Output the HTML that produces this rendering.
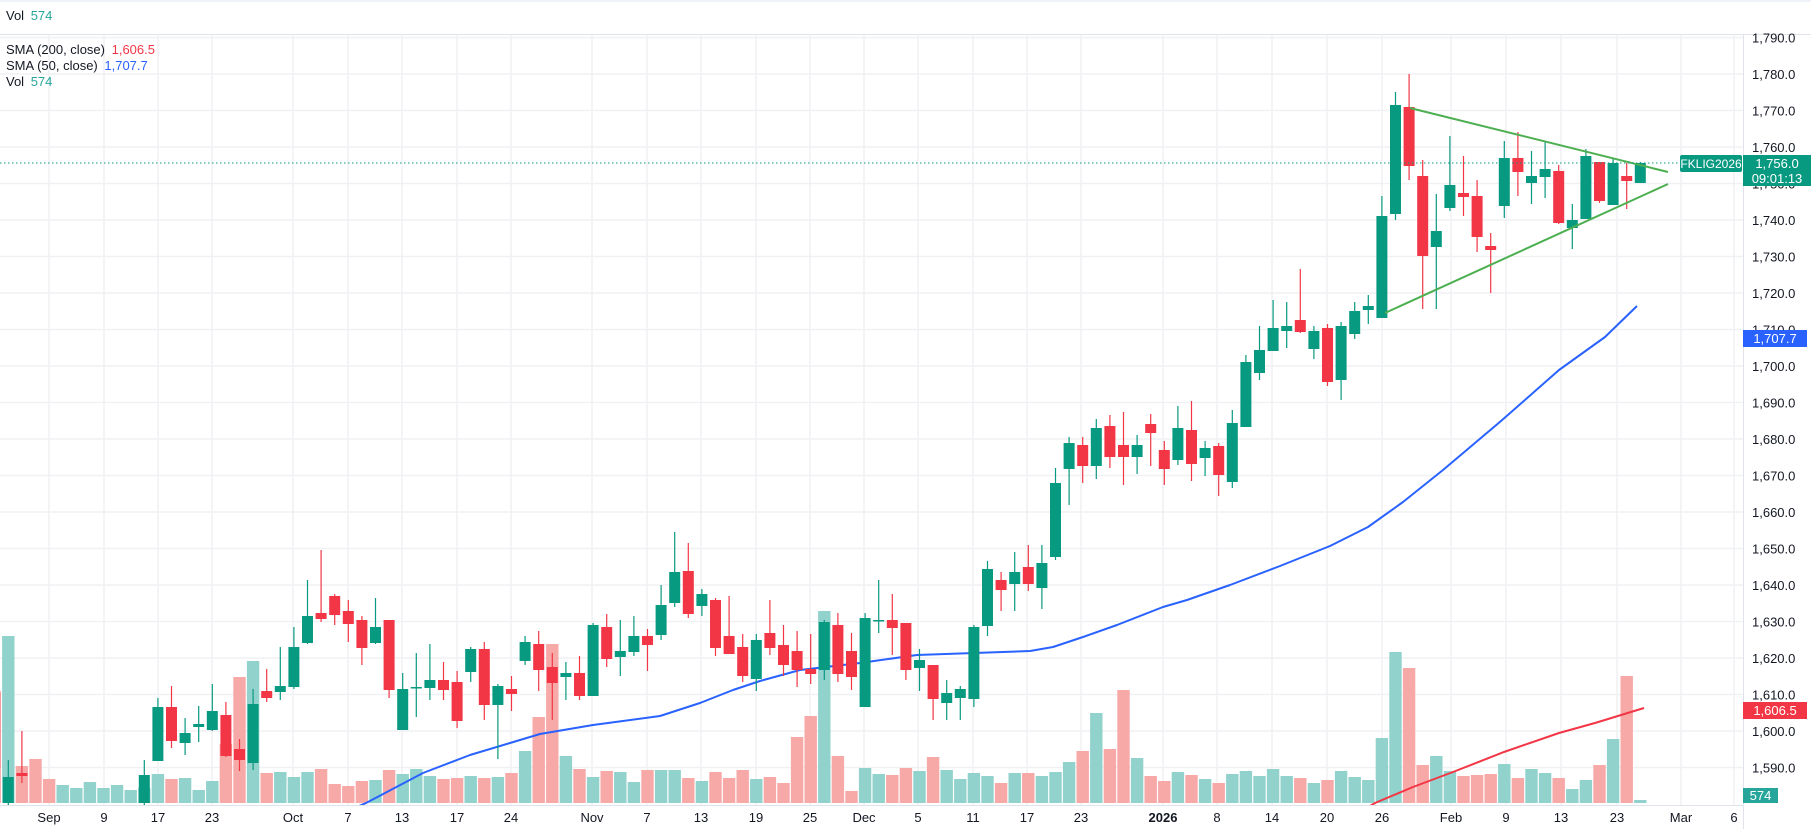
<!DOCTYPE html>
<html><head><meta charset="utf-8"><style>
html,body{margin:0;padding:0;background:#fff;}
body{width:1811px;height:829px;overflow:hidden;font-family:"Liberation Sans",sans-serif;}
svg text{font-family:"Liberation Sans",sans-serif;}
</style></head><body>
<svg id="c" width="1811" height="829" xmlns="http://www.w3.org/2000/svg"></svg>
<script>
const K={"-1":[693,768,680,780],0:[803,777,760,810],1:[773,776,731,783],10:[803,775,760,810],11:[761,707,698,761],12:[707,741,686,748],13:[743,733,718,755],14:[727,724,706,742],15:[730,711,684,731],16:[715,756,702,757],17:[749,760,739,771],18:[763,704,689,770],19:[691,698,669,702],20:[692,686,647,700],21:[687,647,627,689],22:[643,616,580,644],23:[613,619,550,622],24:[596,615,594,625],25:[611,624,600,642],26:[620,648,616,665],27:[643,627,598,644],28:[620,690,620,698],29:[730,689,673,730],30:[688,687,653,717],31:[688,680,644,700],32:[680,690,662,700],33:[682,721,671,728],34:[672,649,647,682],35:[649,705,642,720],36:[705,686,684,759],37:[689,694,676,711],38:[661,642,636,665],39:[644,670,631,691],40:[667,683,653,720],41:[677,673,662,700],42:[673,696,656,700],43:[696,625,623,696],44:[627,659,614,667],45:[657,651,620,676],46:[652,636,616,656],47:[636,645,629,671],48:[635,605,585,640],49:[603,572,532,607],50:[571,614,543,618],51:[606,594,589,616],52:[600,648,598,656],53:[636,654,596,654],54:[647,676,634,682],55:[679,640,634,691],56:[633,648,600,655],57:[645,665,625,676],58:[651,670,631,687],59:[669,674,634,684],60:[670,622,620,680],61:[625,674,613,682],62:[651,677,633,690],63:[707,618,613,707],64:[621,620,580,633],65:[620,628,594,655],66:[623,670,623,680],67:[668,660,649,691],68:[665,699,665,720],69:[703,693,680,720],70:[698,689,686,720],71:[699,627,625,707],72:[626,569,561,636],73:[580,590,572,611],74:[584,572,552,611],75:[567,584,545,591],76:[588,563,545,609],77:[557,483,468,560],78:[469,443,437,505],79:[445,466,437,483],80:[466,428,419,479],81:[426,457,415,468],82:[445,457,412,485],83:[457,445,435,474],84:[424,433,414,466],85:[450,469,441,485],86:[460,428,406,465],87:[430,464,401,481],88:[458,448,441,476],89:[446,475,443,496],90:[482,423,410,488],91:[427,362,355,427],92:[373,350,326,380],93:[351,328,300,351],94:[331,326,302,348],95:[320,332,269,333],96:[349,331,326,359],97:[328,382,324,386],98:[380,326,322,400],99:[334,311,302,339],100:[310,306,295,324],101:[318,216,196,318],102:[214,105,92,220],103:[107,166,74,180],104:[176,256,160,309],105:[247,231,194,309],106:[208,185,136,211],107:[193,197,156,216],108:[196,237,180,252],109:[246,250,233,293],110:[206,158,141,218],111:[158,172,132,196],112:[183,176,151,204],113:[177,169,142,198],114:[171,223,165,224],115:[228,220,204,249],116:[219,156,149,219],117:[162,201,162,203],118:[205,163,159,205],119:[176,181,163,209],120:[183,163,162,183]};
const V=[691,636,766,759,779,785,788,782,788,785,790,788,774,779,778,790,781,744,677,661,773,772,777,772,769,784,786,781,780,770,774,769,776,779,778,776,778,777,773,751,717,644,756,769,777,771,772,782,770,770,770,778,781,772,778,770,779,777,783,737,716,611,756,791,768,774,775,768,771,757,770,779,773,776,783,773,773,776,772,762,751,713,749,690,758,776,781,772,775,779,783,774,771,776,769,776,778,783,780,771,777,780,738,652,668,765,756,771,776,775,774,764,778,769,773,778,789,780,765,739,676,800];
const X=i=>8.3+13.6*i;
const AX=1743;
let s='';
s+='<rect x="0" y="0" width="1811" height="2" fill="#f0f3fa"/>';
s+='<line x1="0" y1="34.5" x2="1811" y2="34.5" stroke="#e0e3eb"/>';
for(let p=1790;p>=1590;p-=10){const y=147+(1760-p)*3.65;s+=`<line x1="0" y1="${y}" x2="${AX}" y2="${y}" stroke="#f0f1f4" stroke-width="1.5"/>`;}
const T=[[49,'Sep'],[104,'9'],[158,'17'],[212,'23'],[293,'Oct'],[348,'7'],[402,'13'],[457,'17'],[511,'24'],[592,'Nov'],[647,'7'],[701,'13'],[756,'19'],[810,'25'],[864,'Dec'],[918,'5'],[973,'11'],[1027,'17'],[1081,'23'],[1163,'2026'],[1217,'8'],[1272,'14'],[1327,'20'],[1382,'26'],[1451,'Feb'],[1506,'9'],[1561,'13'],[1617,'23'],[1681,'Mar'],[1734,'6']];
T.forEach(t=>{s+=`<line x1="${t[0]}" y1="35" x2="${t[0]}" y2="805" stroke="#f0f1f4" stroke-width="1.5"/>`;});
s+='<g clip-path="url(#cp)">';
for(let i=-1;i<=120;i++){const k=K[i];let red;if(k)red=k[1]>k[0];else red=(i>=2&&i<=3);if(i===-1)red=true;const v=V[i+1];s+=`<rect x="${X(i)-6.2}" y="${v}" width="12.4" height="${803-v}" fill="${red?'#f7a9a7':'#92d2cc'}"/>`;}
const B=[[350,810],[366,803],[423,773],[470,755],[510,743],[540,734],[593,725],[660,716],[700,703],[733,690],[760,681],[800,670],[860,663],[917,655],[1030,651],[1053,647],[1083,637],[1117,625],[1163,607],[1187,600],[1230,585],[1280,566],[1330,546],[1368,527],[1403,502],[1443,470],[1501,421],[1559,370],[1605,337],[1637,306]];
s+=`<polyline points="${B.map(p=>p.join(',')).join(' ')}" fill="none" stroke="#2962ff" stroke-width="2" stroke-linejoin="round"/>`;
const R=[[1370,806],[1375,803],[1413,787],[1453,772],[1504,752],[1559,733],[1595,723],[1644,708]];
s+=`<polyline points="${R.map(p=>p.join(',')).join(' ')}" fill="none" stroke="#f23645" stroke-width="2"/>`;
for(let i=-1;i<=120;i++){const k=K[i];if(!k)continue;const[o,c,h,l]=k;const red=c>o;const col=red?'#f23645':'#089981';const x=X(i);const top=Math.min(o,c),bh=Math.max(Math.abs(c-o),1.5);
s+=`<line x1="${x}" y1="${h}" x2="${x}" y2="${l}" stroke="${col}" stroke-width="1.2"/>`;
s+=`<rect x="${x-5.5}" y="${top}" width="11" height="${bh}" fill="${col}"/>`;}
s+='</g>';
s+='<line x1="1410" y1="108" x2="1668" y2="172" stroke="#4caf50" stroke-width="2"/>';
s+='<line x1="1385" y1="313" x2="1668" y2="184" stroke="#4caf50" stroke-width="2"/>';
s+=`<line x1="0" y1="163" x2="${AX}" y2="163" stroke="#089981" stroke-width="1" stroke-dasharray="1.5,2.5"/>`;
s+=`<line x1="${AX+0.5}" y1="35" x2="${AX+0.5}" y2="829" stroke="#e0e3eb"/>`;
s+=`<line x1="0" y1="805.5" x2="${AX}" y2="805.5" stroke="#e0e3eb"/>`;
for(let p=1790;p>=1590;p-=10){const y=147+(1760-p)*3.65;s+=`<text x="${AX+9}" y="${y+5}" font-size="13" fill="#131722">${(p/1000|0)},${String(p%1000).padStart(3,'0')}.0</text>`;}
T.forEach(t=>{s+=`<text x="${t[0]}" y="822" font-size="13" text-anchor="middle" fill="#131722" ${t[1]==='2026'?'font-weight="bold"':''}>${t[1]}</text>`;});
s+='<rect x="1680" y="155" width="62" height="17" rx="2" fill="#089981"/><text x="1711" y="168" font-size="12" text-anchor="middle" fill="#fff">FKLIG2026</text>';
s+=`<rect x="${AX}" y="155" width="${1811-AX}" height="31" fill="#089981"/><text x="${AX+34}" y="168" font-size="13" text-anchor="middle" fill="#fff">1,756.0</text><text x="${AX+34}" y="183" font-size="13" text-anchor="middle" fill="#fff">09:01:13</text>`;
s+=`<rect x="${AX}" y="330" width="64" height="17" fill="#2962ff"/><text x="${AX+32}" y="343" font-size="13" text-anchor="middle" fill="#fff">1,707.7</text>`;
s+=`<rect x="${AX}" y="702" width="64" height="17" fill="#f23645"/><text x="${AX+32}" y="715" font-size="13" text-anchor="middle" fill="#fff">1,606.5</text>`;
s+=`<rect x="${AX}" y="788" width="35" height="15" fill="#26a69a"/><text x="${AX+17.5}" y="800" font-size="13" text-anchor="middle" fill="#fff">574</text>`;
s+='<text x="6" y="20" font-size="13" fill="#131722">Vol <tspan fill="#26a69a" dx="3">574</tspan></text>';
s+='<text x="6" y="54" font-size="13" fill="#131722">SMA (200, close) <tspan fill="#f23645" dx="3">1,606.5</tspan></text>';
s+='<text x="6" y="70" font-size="13" fill="#131722">SMA (50, close) <tspan fill="#2962ff" dx="3">1,707.7</tspan></text>';
s+='<text x="6" y="86" font-size="13" fill="#131722">Vol <tspan fill="#26a69a" dx="3">574</tspan></text>';
document.getElementById('c').innerHTML=`<defs><clipPath id="cp"><rect x="0" y="35" width="${AX}" height="770"/></clipPath></defs>`+s;
</script>
</body></html>
